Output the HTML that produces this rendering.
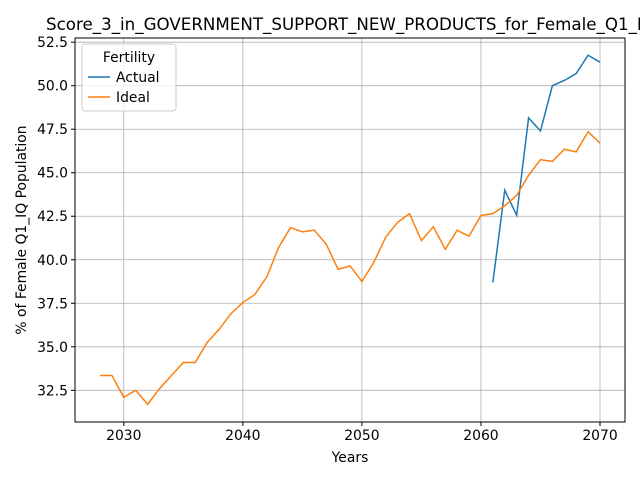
<!DOCTYPE html>
<html><head><meta charset="utf-8"><style>
body{margin:0;background:#fff;}
svg{font-family:"DejaVu Sans","Liberation Sans",sans-serif;}
</style></head><body>
<svg id="chart" width="640" height="480" xmlns="http://www.w3.org/2000/svg">
<rect width="640" height="480" fill="#fff"/>
<text x="46" y="30" font-size="16.7" fill="#000">Score_3_in_GOVERNMENT_SUPPORT_NEW_PRODUCTS_for_Female_Q1_IQ</text>
<g id="grid"></g>
<g id="series"></g>
<rect x="75" y="38" width="550" height="384" fill="none" stroke="#000" stroke-width="1"/>
<g id="ticks"></g>
<text x="350" y="462" font-size="13.9" text-anchor="middle">Years</text>
<text transform="translate(26,230) rotate(-90)" font-size="13.9" text-anchor="middle">% of Female Q1_IQ Population</text>
<g>
<rect x="82" y="44" width="94" height="67" rx="3" fill="#fff" fill-opacity="0.8" stroke="#ccc"/>
<text x="129" y="62" font-size="13.9" text-anchor="middle">Fertility</text>
<line x1="88" y1="77" x2="110" y2="77" stroke="#1f77b4" stroke-width="1.5"/>
<text x="116" y="82" font-size="13.9">Actual</text>
<line x1="88" y1="97" x2="110" y2="97" stroke="#ff7f0e" stroke-width="1.5"/>
<text x="116" y="102" font-size="13.9">Ideal</text>
</g>
</svg>
<script>
const idealYears=[2028,2029,2030,2031,2032,2033,2034,2035,2036,2037,2038,2039,2040,2041,2042,2043,2044,2045,2046,2047,2048,2049,2050,2051,2052,2053,2054,2055,2056,2057,2058,2059,2060,2061,2062,2063,2064,2065,2066,2067,2068,2069,2070];
const idealValues=[33.35,33.35,32.1,32.5,31.7,32.6,33.35,34.1,34.1,35.25,36.0,36.9,37.55,38.0,39.0,40.7,41.85,41.6,41.7,40.9,39.45,39.65,38.75,39.85,41.3,42.15,42.65,41.1,41.9,40.6,41.7,41.35,42.55,42.65,43.1,43.7,44.85,45.75,45.65,46.35,46.2,47.35,46.7];
const actualYears=[2061,2062,2063,2064,2065,2066,2067,2068,2069,2070];
const actualValues=[38.7,44.0,42.55,48.15,47.4,50.0,50.3,50.7,51.75,51.35];
const xTicks=[2030,2040,2050,2060,2070];
const yTicks=[32.5,35.0,37.5,40.0,42.5,45.0,47.5,50.0,52.5];
const L=75,R=625,T=38,B=422,xmin=2025.9,xmax=2072.1,ymin=30.68,ymax=52.74;
const X=v=>L+(v-xmin)/(xmax-xmin)*(R-L);
const Y=v=>B-(v-ymin)/(ymax-ymin)*(B-T);
const NS="http://www.w3.org/2000/svg";
const grid=document.getElementById('grid'),ticks=document.getElementById('ticks'),series=document.getElementById('series');
function mk(t,a,p){const e=document.createElementNS(NS,t);for(const k in a)e.setAttribute(k,a[k]);p.appendChild(e);return e;}
xTicks.forEach(v=>{
 const g=mk('line',{x1:X(v),x2:X(v),y1:T,y2:B,stroke:'#b0b0b0','stroke-width':0.8},grid);
 
 
 mk('line',{x1:X(v),x2:X(v),y1:B,y2:B+4,stroke:'#000'},ticks);
 const t=mk('text',{x:X(v),y:B+18,'font-size':13.9,'text-anchor':'middle'},ticks);t.textContent=v;
 
 
});
yTicks.forEach(v=>{
 const g=mk('line',{x1:L,x2:R,y1:Y(v),y2:Y(v),stroke:'#b0b0b0','stroke-width':0.8},grid);
 
 
 mk('line',{x1:L-4,x2:L,y1:Y(v),y2:Y(v),stroke:'#000'},ticks);
 const t=mk('text',{x:L-7,y:Y(v)+5,'font-size':13.9,'text-anchor':'end'},ticks);t.textContent=v.toFixed(1);
 
 
});
function line(xs,ys,c,name){
 const p=mk('polyline',{points:xs.map((x,i)=>X(x)+','+Y(ys[i])).join(' '),fill:'none',stroke:c,'stroke-width':1.5},series);
 
 
}
line(actualYears,actualValues,'#1f77b4','actual-line');
line(idealYears,idealValues,'#ff7f0e','ideal-line');
</script>
</body></html>
